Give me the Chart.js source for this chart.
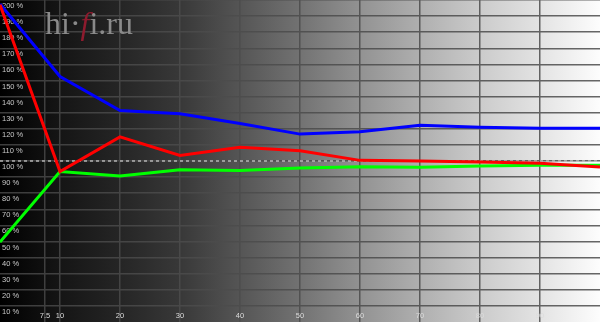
<!DOCTYPE html>
<html>
<head>
<meta charset="utf-8">
<script src="https://cdn.jsdelivr.net/npm/chart.js@4.4.1/dist/chart.umd.min.js"></script>
<style>
    html, body { margin: 0; padding: 0; background: #000; }
    #wrap { position: relative; width: 600px; height: 322px; overflow: hidden; }
    #logo { position: absolute; left: 45px; top: 7px; font-family: "Liberation Serif", serif; font-size: 32px; line-height: 32px; color: #8a8a8a; white-space: nowrap; pointer-events: none; }
    #logo i { color: #8e1b2e; }
</style>
</head>
<body>
<div id="wrap">
    <canvas id="myChart" width="600" height="322"></canvas>
    <div id="logo">hi·<i>f</i>i.ru</div>
</div>
<script>
// stimulus level, %
const xValues = [0, 10, 20, 30, 40, 50, 60, 70, 80, 90, 100];
// RGB balance, %
const redValues = [197, 93.4, 115, 103.5, 108.5, 106.4, 100.4, 100, 99.4, 98.6, 96.3];
const greenValues = [49.6, 93.4, 90.7, 94.6, 94.1, 95.7, 96.5, 96.1, 96.9, 97.3, 97.3];
const blueValues = [197.5, 152.5, 131.3, 129.4, 123.3, 116.7, 118.1, 122.2, 121, 120.4, 120.4];
const referenceValue = 100;

const xTicks = [7.5, 10, 20, 30, 40, 50, 60, 70, 80, 90];
const yTicks = [10, 20, 30, 40, 50, 60, 70, 80, 90, 100, 110, 120, 130, 140, 150, 160, 170, 180, 190, 200];

const toPoints = (ys) => ys.map((y, i) => ({ x: xValues[i], y: y }));

// background: black on the left to white on the right
const bgStops = ["#000000", "#151515", "#252525", "#383838", "#555555", "#727272", "#929292", "#afafaf", "#cbcbcb", "#e3e3e3", "#fdfdfd"];

const backgroundPlugin = {
    id: 'grayRamp',
    beforeDraw(chart) {
        const ctx = chart.ctx;
        const g = ctx.createLinearGradient(0, 0, chart.width, 0);
        bgStops.forEach((c, i) => g.addColorStop(i / (bgStops.length - 1), c));
        ctx.save();
        ctx.fillStyle = g;
        ctx.fillRect(0, 0, chart.width, chart.height);
        ctx.restore();
    }
};

function gridShade(f) {
    // dark grey on the left, a bit lighter grey on the right
    const v = Math.round(60 + f * 42);
    return "rgb(" + v + "," + v + "," + v + ")";
}

new Chart(document.getElementById("myChart"), {
    type: "line",
    data: {
        datasets: [
            { data: toPoints(redValues), borderColor: "#ff0000", borderWidth: 3, order: 1 },
            { data: toPoints(greenValues), borderColor: "#00ff00", borderWidth: 3, order: 2 },
            { data: toPoints(blueValues), borderColor: "#0000ff", borderWidth: 3, order: 3 },
            {
                data: [{ x: 0, y: referenceValue }, { x: 100, y: referenceValue }],
                borderColor: "rgba(200, 200, 200, 0.85)",
                borderWidth: 1.5,
                borderDash: [3, 3],
                order: 10
            }
        ]
    },
    options: {
        responsive: false,
        animation: false,
        devicePixelRatio: 1,
        layout: { padding: 0 },
        elements: { point: { radius: 0 }, line: { tension: 0 } },
        plugins: { legend: { display: false }, tooltip: { enabled: false } },
        scales: {
            x: {
                type: "linear",
                min: 0,
                max: 100,
                border: { display: false },
                afterBuildTicks: (scale) => { scale.ticks = xTicks.map(v => ({ value: v })); },
                afterFit: (scale) => { scale.height = 0; scale.paddingLeft = 0; scale.paddingRight = 0; },
                grid: {
                    drawTicks: false,
                    lineWidth: 1.5,
                    color: (ctx) => gridShade((ctx.tick ? ctx.tick.value : 50) / 100)
                },
                ticks: {
                    autoSkip: false,
                    maxRotation: 0,
                    mirror: true,
                    padding: 1.5,
                    color: "#dcdcdc",
                    font: { family: "'Liberation Sans', Arial, sans-serif", size: 7.5 },
                    callback: (v) => String(v)
                }
            },
            y: {
                min: 0,
                max: 200,
                border: { display: false },
                afterBuildTicks: (scale) => { scale.ticks = yTicks.map(v => ({ value: v })); },
                afterFit: (scale) => { scale.width = 0; scale.paddingTop = 0; scale.paddingBottom = 0; },
                grid: {
                    drawTicks: false,
                    lineWidth: 1.5,
                    color: (ctx) => {
                        const c = ctx.chart.ctx;
                        const g = c.createLinearGradient(0, 0, ctx.chart.width, 0);
                        g.addColorStop(0, gridShade(0));
                        g.addColorStop(1, gridShade(1));
                        return g;
                    }
                },
                ticks: {
                    mirror: true,
                    padding: 2,
                    labelOffset: 6,
                    color: "#c8c8c8",
                    font: { family: "'Liberation Sans', Arial, sans-serif", size: 7.5 },
                    callback: (v) => v + " %"
                }
            }
        }
    },
    plugins: [backgroundPlugin]
});
</script>
</body>
</html>
